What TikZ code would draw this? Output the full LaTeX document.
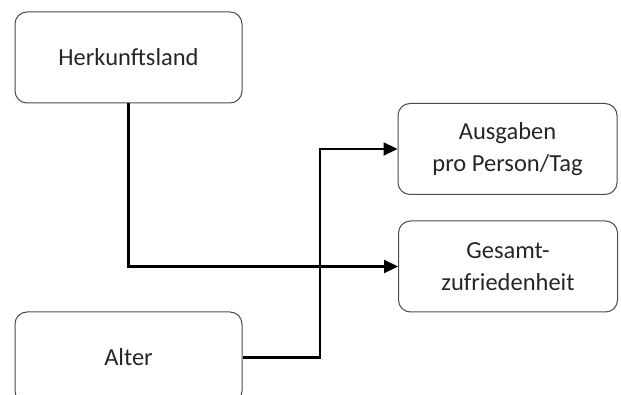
\documentclass[tikz,border=0pt]{standalone}
\usepackage{fontspec}
\setmainfont{Carlito}
\usepackage{tikz}
\usetikzlibrary{arrows.meta}
\newcommand{\boxfontsize}{\fontsize{24.5}{32}\selectfont}
\tikzstyle{factor}=[draw=black!70, line width=1pt, rounded corners=12pt, align=center,
                    text=black!85, font=\boxfontsize, inner sep=0]
\tikzstyle{inbox}=[factor, minimum width=227pt, minimum height=91pt]
\tikzstyle{outbox}=[factor, minimum width=219pt, minimum height=91pt]
\tikzstyle{effect}=[draw=black, line width=2.2pt, -{Triangle[length=14pt,width=13pt]}]

\begin{document}
\begin{tikzpicture}[x=1pt, y=-1pt]
        % Fix the page to the reference size.
        \useasboundingbox (0, 0) rectangle (621, 395);
        \node[inbox] (herkunft) at (128.5, 57.5) {Herkunftsland};
        \node[inbox] (alter) at (128.5, 357.5) {Alter};
        \node[outbox] (ausgaben) at (507.5, 149) {Ausgaben\\pro Person/Tag};
        \node[outbox] (gesamt) at (508, 266.5) {Gesamt-\\zufriedenheit};
        \coordinate (knick) at (320, 149);
        \draw[effect] (herkunft.south) |- (gesamt.west);
        \draw[effect] (alter.east) -| (knick) -- (ausgaben.west);
    \end{tikzpicture}
\end{document}
